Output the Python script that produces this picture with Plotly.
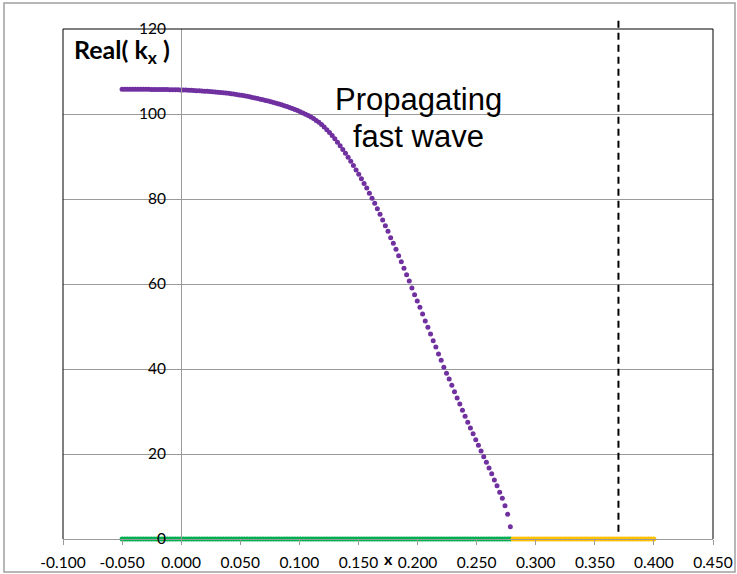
import numpy as np
import plotly.graph_objects as go

# Sampling grid along x (evenly spaced samples from -0.05 to 0.40)
x_grid = np.round(np.linspace(-0.05, 0.40, 201), 5)

# Real(k_x) of the propagating fast wave, one value per grid point until cutoff
real_kx = [
    105.85, 105.85, 105.84, 105.84, 105.83, 105.83, 105.82, 105.82, 105.81, 105.81,
    105.80, 105.79, 105.79, 105.78, 105.77, 105.76, 105.75, 105.74, 105.73, 105.72,
    105.70, 105.68, 105.66, 105.64, 105.62, 105.59, 105.56, 105.53, 105.50, 105.46,
    105.42, 105.38, 105.34, 105.29, 105.24, 105.19, 105.13, 105.07, 105.01, 104.95,
    104.88, 104.79, 104.70, 104.60, 104.50, 104.39, 104.28, 104.16, 104.04, 103.91,
    103.78, 103.64, 103.50, 103.35, 103.20, 103.04, 102.88, 102.71, 102.53, 102.35,
    102.16, 101.96, 101.75, 101.53, 101.30, 101.06, 100.81, 100.54, 100.26, 99.96,
    99.64, 99.30, 98.92, 98.50, 98.03, 97.51, 96.94, 96.32, 95.65, 94.93,
    94.16, 93.36, 92.52, 91.65, 90.75, 89.82, 88.86, 87.87, 86.85, 85.81,
    84.75, 83.67, 82.57, 81.34, 80.16, 78.99, 77.72, 76.40, 75.06, 73.72,
    72.40, 70.89, 69.58, 68.16, 66.66, 65.25, 63.69, 62.19, 60.71, 59.05,
    57.48, 56.00, 54.52, 52.94, 51.29, 49.81, 48.24, 46.66, 45.18, 43.53,
    42.05, 40.40, 38.99, 37.65, 36.16, 34.66, 33.18, 31.76, 30.28, 28.87,
    27.46, 26.12, 24.78, 23.36, 22.05, 20.71, 19.36, 18.05, 16.71, 15.36,
    13.88, 12.54, 10.99, 9.58, 7.84, 5.81, 2.89,
]
n_prop = len(real_kx)

# Zero-level markers: propagating region and evanescent region
x_prop = x_grid[:n_prop]
zero_prop = [0.0] * n_prop
x_evan = x_grid[n_prop:]
zero_evan = [0.0] * len(x_evan)

# Position of the vertical dashed marker line
x_cut_line = 0.37

# Axis ticks
x_tickvals = [-0.1, -0.05, 0.0, 0.05, 0.1, 0.15, 0.2, 0.25, 0.3, 0.35, 0.4, 0.45]
x_ticktext = ["-0.100", "-0.050", "0.000", "0.050", "0.100", "0.150",
              "0.200", "0.250", "0.300", "0.350", "0.400", "0.450"]
y_tickvals = [0, 20, 40, 60, 80, 100, 120]
x_range = [-0.1, 0.45]
y_range = [0, 120]

PURPLE = "#7030A0"
GREEN = "#00B050"
GOLD = "#FFC000"
GRID = "#9a9a9a"
TICK_FONT = dict(family="Lato, sans-serif", size=15.5, color="#000000")

fig = go.Figure()

fig.add_trace(go.Scatter(
    x=x_prop, y=zero_prop, mode="markers",
    marker=dict(size=5, color=GREEN, line=dict(width=0)),
    cliponaxis=False, hoverinfo="skip"))
fig.add_trace(go.Scatter(
    x=x_evan, y=zero_evan, mode="markers",
    marker=dict(size=5, color=GOLD, line=dict(width=0)),
    cliponaxis=False, hoverinfo="skip"))
fig.add_trace(go.Scatter(
    x=x_prop, y=real_kx, mode="markers",
    marker=dict(size=5, color=PURPLE, line=dict(width=0)),
    cliponaxis=False))

# y-axis crosses the x-axis at x = 0
y_axis_pos = (0 - x_range[0]) / (x_range[1] - x_range[0])

fig.update_layout(
    template="none",
    width=737, height=574,
    margin=dict(l=63, r=24, t=29, b=35, pad=0, autoexpand=False),
    paper_bgcolor="white", plot_bgcolor="white",
    showlegend=False,
    xaxis=dict(
        range=x_range, tickvals=x_tickvals, ticktext=x_ticktext,
        showgrid=False, zeroline=False, automargin=False,
        showline=True, linecolor=GRID, linewidth=1,
        ticks="outside", ticklen=5, tickcolor=GRID, tickwidth=1,
        tickfont=TICK_FONT, ticklabelstandoff=4,
    ),
    yaxis=dict(
        range=y_range, tickvals=y_tickvals,
        anchor="free", position=y_axis_pos, automargin=False,
        showgrid=True, gridcolor=GRID, gridwidth=1, zeroline=False,
        showline=True, linecolor=GRID, linewidth=1,
        ticks="", tickfont=TICK_FONT, ticklabelstandoff=12,
    ),
    shapes=[
        # outer frame of the chart
        dict(type="rect", xref="paper", yref="paper",
             x0=-59 / 650, x1=672 / 650, y0=-33 / 510, y1=536 / 510,
             line=dict(color="#a0a0a0", width=1.5), layer="below"),
        # plot area border (left, top, right)
        dict(type="path", xref="paper", yref="paper",
             path="M 0,0 L 0,1 L 1,1 L 1,0",
             line=dict(color="black", width=1)),
        # dashed vertical marker
        dict(type="line", xref="x", yref="paper",
             x0=x_cut_line, x1=x_cut_line, y0=0.014, y1=1.018,
             line=dict(color="black", width=2, dash="7px,5px")),
    ],
    annotations=[
        dict(text="<b>Real( k<sub>x</sub> )</b>", xref="paper", yref="paper",
             x=9 / 650, y=0.957, xanchor="left", yanchor="middle",
             showarrow=False,
             font=dict(family="Lato, sans-serif", size=25, color="black")),
        dict(text="Propagating", xref="x", yref="y",
             x=0.2004, y=103.3, xanchor="center", yanchor="middle",
             showarrow=False,
             font=dict(family="Liberation Sans, Arial, sans-serif", size=31, color="black")),
        dict(text="fast wave", xref="x", yref="y",
             x=0.2004, y=94.6, xanchor="center", yanchor="middle",
             showarrow=False,
             font=dict(family="Liberation Sans, Arial, sans-serif", size=31, color="black")),
        dict(text="<b>x</b>", xref="paper", yref="paper",
             x=326 / 650, y=-19 / 510, xanchor="center", yanchor="middle",
             showarrow=False,
             font=dict(family="Lato, sans-serif", size=16, color="black")),
    ],
)

fig.write_html("out.html")
